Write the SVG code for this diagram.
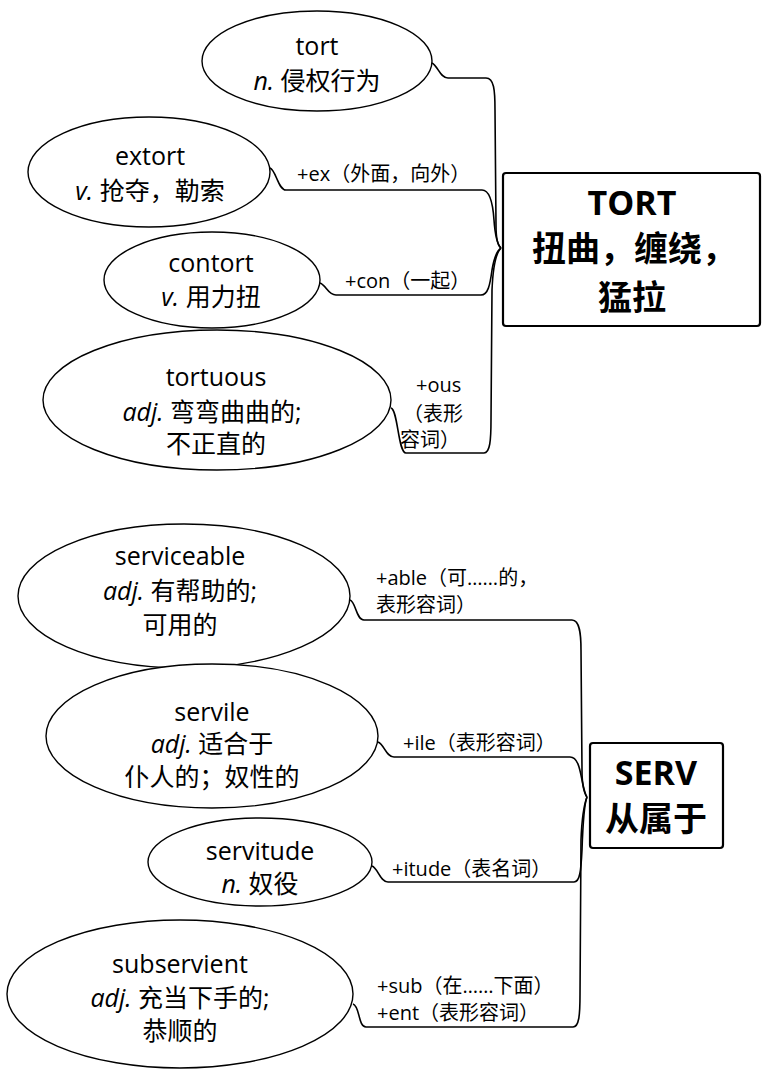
<svg xmlns="http://www.w3.org/2000/svg" width="762" height="1071" viewBox="0 0 762 1071">
<style>
.bg{fill:#fff}
.node ellipse{fill:#fff;stroke:#000;stroke-width:1.4}
.box{fill:#fff;stroke:#000;stroke-width:2.2}
.t{font-family:"Open Sans","Noto Sans CJK SC",sans-serif;font-size:25px;fill:#000;text-anchor:middle}
.i{font-style:italic}
.b{font-family:"Open Sans","Noto Sans CJK SC",sans-serif;font-size:34px;font-weight:bold;fill:#000;text-anchor:middle}
.l{font-family:"Open Sans","Noto Sans CJK SC",sans-serif;font-size:20px;fill:#000}
.c path{fill:none;stroke:#000;stroke-width:1.6}
</style>
<rect class="bg" width="762" height="1071"/>
<g class="c" id="connectors">
<path d="M432,63 C438,66 440,78 448,78 L486,78 C494,78 495,90 495,110 L496,225 C496,240 498,246 501,248"/>
<path d="M270,168 C276,170 278,190 286,190 L482,190 C490,190 493,205 494,220 C495,235 498,245 501,248"/>
<path d="M320,283 C326,285 328,295 336,295 L481,295 C488,295 490,285 492,270 C494,258 498,250 501,248"/>
<path d="M391,408 C398,410 398,453 406,453 L484,453 C490,453 491,440 491,420 L492,290 C493,265 497,252 501,248"/>
<path d="M350,600 C356,602 356,620 364,620 L572,620 C580,620 581,635 581,650 L582,770 C582,785 584,793 587,797"/>
<path d="M378,742 C384,744 386,757 394,757 L570,757 C578,757 580,770 582,780 C584,790 585,795 587,797"/>
<path d="M372,866 C378,868 380,882 388,882 L574,882 C580,882 581,870 582,850 C583,820 585,802 587,797"/>
<path d="M353,1004 C360,1006 358,1027 366,1027 L573,1027 C579,1027 580,1015 580,995 L581,840 C582,815 585,802 587,797"/>
<text class="l" x="297" y="181">+ex（外面，向外）</text>
<text class="l" x="345" y="288">+con（一起）</text>
<text class="l" x="416" y="392">+ous</text>
<text class="l" x="403" y="421">（表形</text>
<text class="l" x="400" y="447">容词）</text>
<text class="l" x="376" y="585">+able（可……的，</text>
<text class="l" x="376" y="612">表形容词）</text>
<text class="l" x="403" y="750">+ile（表形容词）</text>
<text class="l" x="392" y="876">+itude（表名词）</text>
<text class="l" x="377" y="993">+sub（在……下面）</text>
<text class="l" x="377" y="1020">+ent（表形容词）</text>
</g>
<g class="node" id="tort">
<ellipse cx="317" cy="61" rx="115" ry="50"/>
<text class="t" x="317" y="55">tort</text>
<text class="t" x="317" y="90"><tspan class="i">n.</tspan> 侵权行为</text>
</g>
<g class="node" id="extort">
<ellipse cx="149" cy="172" rx="121" ry="55"/>
<text class="t" x="150" y="165">extort</text>
<text class="t" x="150" y="200"><tspan class="i">v.</tspan> 抢夺，勒索</text>
</g>
<g class="node" id="contort">
<ellipse cx="212" cy="280" rx="108" ry="48"/>
<text class="t" x="211" y="272">contort</text>
<text class="t" x="211" y="306"><tspan class="i">v.</tspan> 用力扭</text>
</g>
<g class="node" id="tortuous">
<ellipse cx="217" cy="400" rx="174" ry="70"/>
<text class="t" x="216" y="386">tortuous</text>
<text class="t" x="212" y="421"><tspan class="i">adj.</tspan> 弯弯曲曲的;</text>
<text class="t" x="216" y="453">不正直的</text>
</g>
<g id="TORT">
<rect class="box" x="503" y="173" width="257" height="153" rx="3"/>
<text class="b" x="632" y="215">TORT</text>
<text class="b" x="634" y="261">扭曲，缠绕，</text>
<text class="b" x="632" y="310">猛拉</text>
</g>
<g class="node" id="serviceable">
<ellipse cx="184" cy="596" rx="166" ry="72"/>
<text class="t" x="180" y="565">serviceable</text>
<text class="t" x="180" y="600"><tspan class="i">adj.</tspan> 有帮助的;</text>
<text class="t" x="180" y="634">可用的</text>
</g>
<g class="node" id="servile">
<ellipse cx="212" cy="736" rx="166" ry="72"/>
<text class="t" x="212" y="721">servile</text>
<text class="t" x="212" y="753"><tspan class="i">adj.</tspan> 适合于</text>
<text class="t" x="212" y="786">仆人的；奴性的</text>
</g>
<g class="node" id="servitude">
<ellipse cx="260" cy="862" rx="112" ry="44"/>
<text class="t" x="260" y="860">servitude</text>
<text class="t" x="260" y="893"><tspan class="i">n.</tspan> 奴役</text>
</g>
<g class="node" id="subservient">
<ellipse cx="180" cy="994" rx="173" ry="74"/>
<text class="t" x="180" y="973">subservient</text>
<text class="t" x="180" y="1007"><tspan class="i">adj.</tspan> 充当下手的;</text>
<text class="t" x="180" y="1040">恭顺的</text>
</g>
<g id="SERV">
<rect class="box" x="590" y="743" width="133" height="105" rx="3"/>
<text class="b" x="656" y="785">SERV</text>
<text class="b" x="656" y="831">从属于</text>
</g>
</svg>
